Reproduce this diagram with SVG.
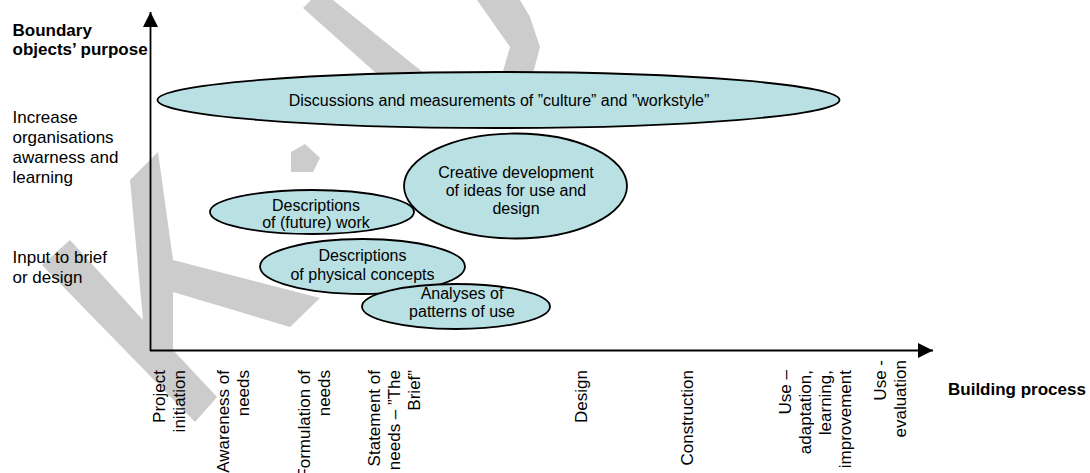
<svg xmlns="http://www.w3.org/2000/svg" width="1090" height="473" viewBox="0 0 1090 473">
  <defs>
    <marker id="arrow" markerUnits="userSpaceOnUse" markerWidth="16" markerHeight="16" viewBox="0 0 16 16" refX="15" refY="8" orient="auto">
      <path d="M0,0.5 L15,8 L0,15.5 Z" fill="#000"/>
    </marker>
  </defs>
  <style>
    text { font-family: "Liberation Sans", Arial, Helvetica, sans-serif; fill: #000; }
    .axis-title { font-size: 17px; font-weight: bold; }
    .lbl { font-size: 17px; }
    .node ellipse { fill: #b9e0e3; stroke: #000; stroke-width: 1.8; }
    .node text { font-size: 16px; text-anchor: middle; }
    .axis { stroke: #000; stroke-width: 1.8; fill: none; marker-end: url(#arrow); }
    .mark { fill: #cccccc; }
  </style>

  <rect width="1090" height="473" fill="#fff"/>

  <!-- faint background mark -->
  <g id="watermark">
    <polygon class="mark" points="130,180 158,152 173,260 320,298 290,327 173,292 173,350 217,397 195,422 42,265 70,240 143,320"/>
    <polygon class="mark" points="291,152 305,144 320,158 313,172 291,172"/>
    <polygon class="mark" points="303,8 311,0 333,0 445,90 395,90"/>
    <polygon class="mark" points="477,0 520,0 530,17 540,47 528,92 497,92 510,47"/>
  </g>

  <!-- axes -->
  <g id="connectors">
    <line class="axis" x1="150.5" y1="351" x2="150.5" y2="12"/>
    <line class="axis" x1="150" y1="350.5" x2="933" y2="350.5"/>
  </g>

  <!-- vertical axis labels -->
  <g id="y-labels">
    <text class="axis-title" x="12.5" y="36">Boundary</text>
    <text class="axis-title" x="12.5" y="55">objects’ purpose</text>
    <text class="lbl" x="12.5" y="123">Increase</text>
    <text class="lbl" x="12.5" y="143">organisations</text>
    <text class="lbl" x="12.5" y="163">awarness and</text>
    <text class="lbl" x="12.5" y="183">learning</text>
    <text class="lbl" x="12.5" y="263">Input to brief</text>
    <text class="lbl" x="12.5" y="283">or design</text>
  </g>

  <!-- building process stages, rotated -->
  <g id="x-labels" class="lbl" font-size="17" text-anchor="end">
    <g transform="translate(0,370) rotate(-90)">
      <text x="0" y="165">Project</text>
      <text x="0" y="185">initiation</text>
      <text x="0" y="228.5">Awareness of</text>
      <text x="0" y="248.5">needs</text>
      <text x="0" y="310">Formulation of</text>
      <text x="0" y="330">needs</text>
      <text x="0" y="380">Statement of</text>
      <text x="0" y="400">needs – ”The</text>
      <text x="0" y="420">Brief”</text>
      <text x="0" y="587">Design</text>
      <text x="0" y="693">Construction</text>
      <text x="0" y="791">Use –</text>
      <text x="0" y="811">adaptation,</text>
      <text x="0" y="831">learning,</text>
      <text x="0" y="851">improvement</text>
    </g>
    <g transform="translate(0,360) rotate(-90)">
      <text x="0" y="886">Use -</text>
      <text x="0" y="906">evaluation</text>
    </g>
  </g>
  <text class="axis-title" x="948" y="395">Building process</text>

  <!-- boundary objects -->
  <g id="node-culture" class="node">
    <ellipse cx="498.5" cy="100" rx="341" ry="28"/>
    <text x="499" y="106">Discussions and measurements of ”culture” and ”workstyle”</text>
  </g>
  <g id="node-creative" class="node">
    <ellipse cx="515.5" cy="186" rx="111.5" ry="52.5"/>
    <text x="516" y="177.5">Creative development</text>
    <text x="516" y="195.5">of ideas for use and</text>
    <text x="516" y="213.5">design</text>
  </g>
  <g id="node-work" class="node">
    <ellipse cx="312" cy="212" rx="102" ry="22"/>
    <text x="316" y="210.5">Descriptions</text>
    <text x="316" y="227.5">of (future) work</text>
  </g>
  <g id="node-physical" class="node">
    <ellipse cx="362.5" cy="266.5" rx="102.5" ry="27.5"/>
    <text x="362.5" y="261">Descriptions</text>
    <text x="362.5" y="279.5">of physical concepts</text>
  </g>
  <g id="node-patterns" class="node">
    <ellipse cx="456" cy="306.5" rx="94" ry="22.5"/>
    <text x="462" y="298.5">Analyses of</text>
    <text x="462" y="317">patterns of use</text>
  </g>
</svg>
